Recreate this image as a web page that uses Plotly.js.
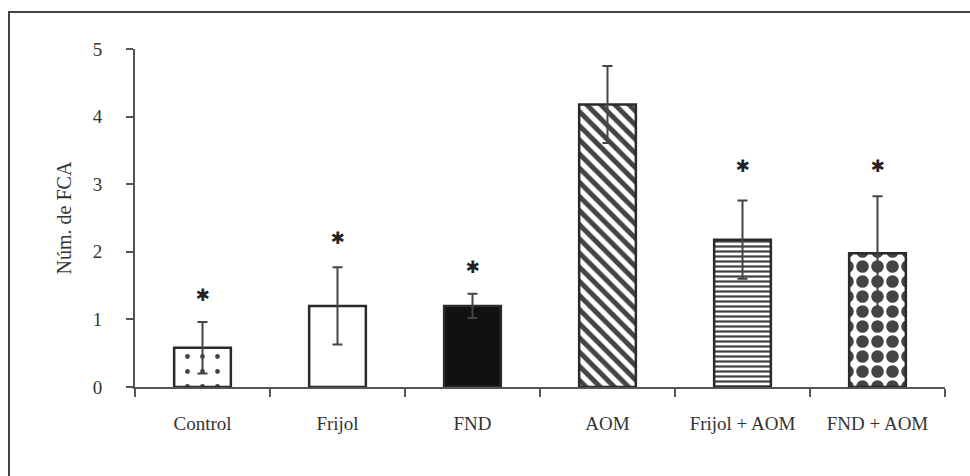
<!DOCTYPE html>
<html>
<head>
<meta charset="utf-8">
<script src="https://cdn.plot.ly/plotly-3.0.1.min.js"></script>
<style>
  html, body { margin: 0; padding: 0; background: #fff; }
  #frame { position: absolute; left: 8px; top: 11px; width: 962px; height: 465px;
           border-top: 2px solid #444; border-left: 2px solid #444; box-sizing: border-box; }
  #chart { position: absolute; left: 0; top: 0; width: 970px; height: 476px; }
</style>
</head>
<body>
<div id="frame"></div>
<div id="chart"></div>
<script>
// ---- data ----
const categories = ["Control", "Frijol", "FND", "AOM", "Frijol + AOM", "FND + AOM"];
const means      = [0.58, 1.20, 1.20, 4.18, 2.18, 1.98];
const errors     = [0.38, 0.57, 0.18, 0.57, 0.58, 0.84];
const starY      = [1.33, 2.18, 1.75, null, 3.25, 3.25];
const starText   = ["✱", "✱", "✱", "", "✱", "✱"];
const yTicks     = [0, 1, 2, 3, 4, 5];

// ---- styles ----
const fillColors   = ["#ffffff", "#ffffff", "#111111", "#ffffff", "#ffffff", "#ffffff"];
const patShapes    = [".", "", "", "\\", "-", "."];
const patFg        = ["#9a9a9a", "#000000", "#000000", "#000000", "#111111", "#000000"];
const patSize      = [15, 8, 8, 10, 5, 15];
const patSolidity  = [0.08, 0.3, 0.3, 0.5, 0.45, 0.55];

const serif = "Liberation Serif, Times New Roman, serif";

const bars = {
  type: "bar",
  x: categories,
  y: means,
  width: 0.42,
  marker: {
    color: fillColors,
    line: { color: "#2a2a2a", width: 2.5 },
    pattern: { shape: patShapes, fgcolor: patFg, fgopacity: 1,
               size: patSize, solidity: patSolidity, fillmode: "overlay" }
  },
  error_y: { type: "data", array: errors, visible: true, color: "#444", thickness: 2, width: 5 },
  hoverinfo: "skip",
  showlegend: false
};

const stars = {
  type: "scatter",
  mode: "text",
  x: categories,
  y: starY,
  text: starText,
  textposition: "middle center",
  textfont: { family: "DejaVu Sans", size: 17, color: "#222" },
  hoverinfo: "skip",
  showlegend: false
};

const layout = {
  width: 970, height: 476,
  margin: { l: 135, r: 25, t: 49, b: 89 },
  paper_bgcolor: "rgba(0,0,0,0)",
  plot_bgcolor: "rgba(0,0,0,0)",
  font: { family: serif, size: 19, color: "#333" },
  xaxis: {
    type: "category",
    range: [-0.5, 5.5],
    tickson: "boundaries",
    ticks: "outside", ticklen: 8, tickwidth: 2, tickcolor: "#555",
    showline: true, linecolor: "#555", linewidth: 2,
    showgrid: false, zeroline: false,
    ticklabelstandoff: 18,
    tickfont: { family: serif, size: 19, color: "#333" }
  },
  yaxis: {
    range: [0, 5],
    tickmode: "array", tickvals: yTicks, ticktext: yTicks.map(String),
    ticks: "outside", ticklen: 7, tickwidth: 2, tickcolor: "#555",
    showline: true, linecolor: "#555", linewidth: 2,
    showgrid: false, zeroline: false,
    ticklabelstandoff: 20,
    tickfont: { family: serif, size: 19, color: "#333" },
    title: { text: "Núm. de FCA", font: { family: serif, size: 20, color: "#333" }, standoff: 16 }
  }
};

Plotly.newPlot("chart", [bars, stars], layout, { displayModeBar: false, staticPlot: true });
</script>
</body>
</html>
